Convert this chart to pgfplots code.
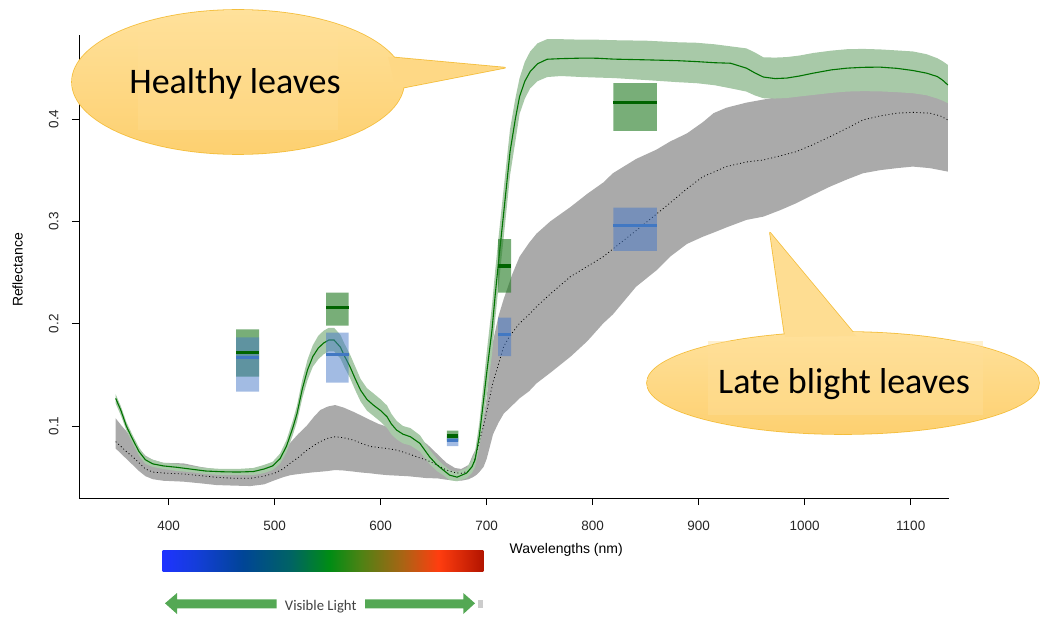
\documentclass[border=0pt]{standalone}
\usepackage{pgfplots}
\pgfplotsset{compat=1.18}
\usepackage{pgfplotstable}
\usepgfplotslibrary{fillbetween}
\usepackage{fontspec}
\setmainfont{Liberation Sans}
\newfontfamily\calibri{Carlito}

\definecolor{hband}{RGB}{168,201,168}
\definecolor{hline}{RGB}{0,115,0}
\definecolor{gband}{RGB}{170,170,170}
\definecolor{gbox}{RGB}{30,120,30}
\definecolor{bbox}{RGB}{70,120,200}
\definecolor{gmean}{RGB}{0,100,0}
\definecolor{bmean}{RGB}{65,120,195}
\definecolor{calltop}{RGB}{255,225,155}
\definecolor{callbot}{RGB}{253,208,112}
\definecolor{callfill}{RGB}{254,216,133}
\definecolor{callrect}{RGB}{255,223,152}
\definecolor{calldraw}{RGB}{244,190,60}
\definecolor{arrowg}{RGB}{84,168,84}

\pgfdeclarehorizontalshading{visible}{100bp}{
rgb(0bp)=(0.12,0.2,1);
rgb(25bp)=(0.12,0.2,1);
rgb(30bp)=(0.08,0.24,0.86);
rgb(37.5bp)=(0,0.27,0.59);
rgb(45bp)=(0,0.39,0.39);
rgb(51bp)=(0,0.55,0.08);
rgb(56bp)=(0.31,0.51,0.08);
rgb(62.5bp)=(0.67,0.39,0.08);
rgb(68bp)=(1,0.24,0.06);
rgb(75bp)=(0.7,0.08,0);
rgb(100bp)=(0.7,0.08,0)}

\pgfplotstableread{
wl m lo hi
350 0.127 0.122 0.131
355 0.115 0.110 0.119
360 0.100 0.096 0.104
366 0.087 0.083 0.091
372 0.075 0.071 0.079
378 0.067 0.063 0.070
385 0.063 0.060 0.067
395 0.061 0.058 0.064
408 0.0596 0.056 0.063
420 0.058 0.055 0.061
435 0.056 0.053 0.059
450 0.0553 0.052 0.058
465 0.055 0.052 0.058
480 0.0555 0.052 0.059
490 0.058 0.054 0.062
498 0.061 0.057 0.065
505 0.068 0.063 0.073
511 0.080 0.074 0.086
517 0.098 0.091 0.105
521 0.112 0.104 0.120
526 0.136 0.127 0.145
531 0.155 0.145 0.165
536 0.168 0.158 0.179
541 0.176 0.165 0.188
546 0.181 0.170 0.193
551 0.184 0.173 0.196
556 0.184 0.173 0.196
562 0.177 0.166 0.189
566 0.168 0.157 0.180
571 0.158 0.147 0.170
576 0.146 0.135 0.158
581 0.135 0.124 0.146
587 0.126 0.115 0.137
593 0.1205 0.110 0.132
600 0.115 0.104 0.126
606 0.109 0.098 0.120
610 0.102 0.092 0.112
615 0.096 0.087 0.105
621 0.092 0.083 0.100
628 0.0895 0.081 0.098
637 0.083 0.075 0.091
646 0.070 0.063 0.077
653 0.062 0.056 0.068
659 0.057 0.052 0.062
665 0.052 0.047 0.057
672 0.050 0.046 0.055
681 0.054 0.049 0.059
686 0.060 0.054 0.067
689 0.067 0.060 0.075
693 0.090 0.078 0.103
697 0.125 0.108 0.142
700 0.152 0.130 0.172
705 0.194 0.170 0.218
708 0.228 0.204 0.252
711 0.259 0.235 0.283
716 0.308 0.284 0.332
722 0.368 0.345 0.390
727 0.400 0.378 0.420
731 0.422 0.405 0.440
736 0.437 0.420 0.456
741 0.4464 0.430 0.466
748 0.454 0.437 0.474
757 0.4584 0.441 0.478
770 0.459 0.442 0.478
790 0.4595 0.441 0.4775
804 0.4594 0.4405 0.4775
820 0.4585 0.440 0.477
851 0.4578 0.438 0.4765
880 0.457 0.436 0.475
898 0.4561 0.435 0.4745
915 0.455 0.433 0.473
930 0.4545 0.430 0.471
945 0.4497 0.4268 0.469
953 0.445 0.423 0.465
961 0.441 0.4203 0.4603
972 0.4395 0.420 0.460
983 0.440 0.4205 0.4605
995 0.442 0.422 0.462
1008 0.4448 0.4235 0.4645
1025 0.448 0.4255 0.4668
1040 0.4497 0.4268 0.4682
1055 0.4505 0.4272 0.4685
1071 0.4507 0.4270 0.4680
1087 0.4495 0.4262 0.467
1102 0.4474 0.4252 0.466
1115 0.4448 0.4232 0.4633
1125 0.4415 0.420 0.4594
1130 0.438 0.418 0.4565
1135 0.4333 0.4154 0.4529
}\healthy

\pgfplotstableread{
wl m lo hi
350 0.0847 0.078 0.1075
355 0.080 0.073 0.101
360 0.075 0.068 0.095
366 0.070 0.062 0.086
372 0.064 0.056 0.078
378 0.058 0.051 0.071
385 0.055 0.048 0.067
395 0.054 0.0465 0.064
414 0.0531 0.0456 0.0635
430 0.0515 0.044 0.060
445 0.0499 0.0423 0.0577
460 0.049 0.0418 0.057
477 0.0489 0.0413 0.0565
490 0.051 0.043 0.060
500 0.054 0.047 0.065
508 0.058 0.050 0.073
515 0.064 0.052 0.084
522 0.069 0.053 0.092
530 0.076 0.054 0.100
537 0.081 0.0548 0.109
543 0.0847 0.0553 0.1156
550 0.088 0.056 0.119
557 0.0895 0.057 0.1205
565 0.0885 0.0565 0.118
574 0.0863 0.0555 0.114
582 0.083 0.0545 0.110
590 0.080 0.0538 0.1059
598 0.079 0.0528 0.102
606 0.078 0.052 0.0993
615 0.0765 0.0515 0.097
625 0.0733 0.051 0.094
635 0.0695 0.050 0.089
644 0.0665 0.049 0.082
653 0.062 0.0489 0.073
662 0.057 0.0475 0.064
670 0.0545 0.047 0.059
676 0.0538 0.0465 0.058
683 0.056 0.048 0.062
687 0.062 0.050 0.072
690 0.072 0.052 0.078
693 0.085 0.055 0.088
697 0.100 0.060 0.108
700 0.114 0.068 0.128
703 0.129 0.080 0.160
706 0.143 0.092 0.183
711 0.160 0.103 0.207
716 0.1775 0.112 0.224
720 0.185 0.116 0.236
724 0.191 0.120 0.248
731 0.2004 0.127 0.2655
740 0.209 0.134 0.279
747 0.2166 0.1417 0.288
760 0.229 0.152 0.300
779 0.246 0.1677 0.314
795 0.256 0.183 0.327
810 0.2655 0.2004 0.338
819 0.273 0.209 0.347
841 0.291 0.2362 0.361
860 0.307 0.252 0.370
873 0.318 0.2655 0.378
889 0.332 0.278 0.386
904 0.3437 0.285 0.397
914 0.348 0.289 0.4057
926 0.3535 0.294 0.411
945 0.358 0.3014 0.416
961 0.360 0.3046 0.419
977 0.364 0.311 0.422
992 0.3681 0.3177 0.424
1008 0.375 0.326 0.4268
1024 0.3828 0.334 0.428
1040 0.391 0.341 0.429
1055 0.3991 0.347 0.430
1071 0.403 0.350 0.430
1087 0.4057 0.352 0.4295
1102 0.4065 0.3535 0.428
1118 0.4057 0.352 0.426
1128 0.403 0.350 0.4236
1135 0.3991 0.3486 0.417
}\blight

\begin{document}
\begin{tikzpicture}[x=1pt,y=1pt]
\path (0,0) rectangle (1040,616);
\begin{axis}[
  at={(79pt,118pt)}, anchor=south west,
  scale only axis, width=870pt, height=463pt,
  xmin=315.38, xmax=1136.1, ymin=0.02964, ymax=0.48209,
  axis x line=bottom, axis y line=left,
  axis line style={-, black, line width=0.9pt},
  xtick={400,500,...,1100}, ytick={0.1,0.2,0.3,0.4},
  tick align=outside, major tick length=7pt,
  tick style={black, line width=0.8pt},
  /pgf/number format/assume math mode=true,
  /pgf/number format/1000 sep={},
  tick label style={font=\fontsize{13.5}{16}\selectfont, text=black!85},
  xticklabel style={yshift=-12.5pt},
  yticklabel style={rotate=90, anchor=south, yshift=10pt,
     /pgf/number format/fixed, /pgf/number format/precision=1},
  xlabel={Wavelengths (nm)},
  xlabel style={at={(axis description cs:0.560,-0.1123)}, anchor=center,
     font=\fontsize{14}{16}\selectfont},
  ylabel={Reflectance},
  ylabel style={at={(axis description cs:-0.0707,0.4924)}, anchor=center,
     font=\fontsize{14}{16}\selectfont},
]
% late blight band
\addplot[name path=bhi, draw=none, forget plot] table[x=wl,y=hi]{\blight};
\addplot[name path=blo, draw=none, forget plot] table[x=wl,y=lo]{\blight};
\addplot[gband, draw=none] fill between[of=bhi and blo];
% healthy band
\addplot[name path=hhi, draw=none, forget plot] table[x=wl,y=hi]{\healthy};
\addplot[name path=hlo, draw=none, forget plot] table[x=wl,y=lo]{\healthy};
\addplot[hband, draw=none] fill between[of=hhi and hlo];
% mean lines
\addplot[black, line width=0.8pt, dash pattern=on 0.9pt off 2.6pt] table[x=wl,y=m]{\blight};
\addplot[hline, line width=1.1pt] table[x=wl,y=m]{\healthy};
% band boxes: healthy (green)
\addplot[draw=none, fill=gbox, fill opacity=0.6] coordinates {(463.5,0.1482) (485.2,0.1482) (485.2,0.1945) (463.5,0.1945) (463.5,0.1482)};
\addplot[draw=none, fill=gbox, fill opacity=0.6] coordinates {(548.4,0.198) (569.8,0.198) (569.8,0.2303) (548.4,0.2303) (548.4,0.198)};
\addplot[draw=none, fill=gbox, fill opacity=0.6] coordinates {(662.3,0.0848) (673.2,0.0848) (673.2,0.0954) (662.3,0.0954) (662.3,0.0848)};
\addplot[draw=none, fill=gbox, fill opacity=0.6] coordinates {(710.7,0.2303) (723,0.2303) (723,0.2825) (710.7,0.2825) (710.7,0.2303)};
\addplot[draw=none, fill=gbox, fill opacity=0.6] coordinates {(819.4,0.3884) (860.4,0.3884) (860.4,0.435) (819.4,0.435) (819.4,0.3884)};
% band boxes: late blight (blue)
\addplot[draw=none, fill=bbox, fill opacity=0.5] coordinates {(463.5,0.1335) (485.2,0.1335) (485.2,0.1867) (463.5,0.1867) (463.5,0.1335)};
\addplot[draw=none, fill=bbox, fill opacity=0.5] coordinates {(548.4,0.1423) (569.8,0.1423) (569.8,0.1912) (548.4,0.1912) (548.4,0.1423)};
\addplot[draw=none, fill=bbox, fill opacity=0.5] coordinates {(662.3,0.0804) (673.2,0.0804) (673.2,0.0902) (662.3,0.0902) (662.3,0.0804)};
\addplot[draw=none, fill=bbox, fill opacity=0.5] coordinates {(710.7,0.1684) (723,0.1684) (723,0.2059) (710.7,0.2059) (710.7,0.1684)};
\addplot[draw=none, fill=bbox, fill opacity=0.5] coordinates {(819.4,0.2711) (860.4,0.2711) (860.4,0.3134) (819.4,0.3134) (819.4,0.2711)};
% box means
\addplot[bmean, line width=3pt] coordinates {(463.5,0.167) (485.2,0.167)};
\addplot[bmean, line width=3pt] coordinates {(548.4,0.1697) (569.8,0.1697)};
\addplot[bmean, line width=3pt] coordinates {(662.3,0.0856) (673.2,0.0856)};
\addplot[bmean, line width=3pt] coordinates {(710.7,0.1896) (723,0.1896)};
\addplot[bmean, line width=3pt] coordinates {(819.4,0.2958) (860.4,0.2958)};
\addplot[gmean, line width=3.5pt] coordinates {(463.5,0.172) (485.2,0.172)};
\addplot[gmean, line width=3.5pt] coordinates {(548.4,0.216) (569.8,0.216)};
\addplot[gmean, line width=3.5pt] coordinates {(662.3,0.0902) (673.2,0.0902)};
\addplot[gmean, line width=3.5pt] coordinates {(710.7,0.2564) (723,0.2564)};
\addplot[gmean, line width=3.5pt] coordinates {(819.4,0.416) (860.4,0.416)};
\end{axis}

% Healthy leaves callout
\path[draw=calldraw, line width=1.6pt] (238,534) ellipse [x radius=166, y radius=72];
\path[draw=calldraw, line width=1.6pt, line join=round] (388,559) -- (505,548.3) -- (396,527) -- cycle;
\shade[top color=calltop, bottom color=callbot] (238,534) ellipse [x radius=166, y radius=72];
\fill[callfill] (388,559) -- (505,548.3) -- (396,527) -- cycle;
\fill[callrect, opacity=0.3] (138.3,486) rectangle (338.3,581);
\node[font=\calibri\fontsize{36}{40}\selectfont, anchor=base] at (235,522.7) {Healthy leaves};

% Late blight callout
\path[draw=calldraw, line width=1.6pt] (843,233) ellipse [x radius=196, y radius=51];
\path[draw=calldraw, line width=1.6pt, line join=round] (785,279) -- (770,383.3) -- (856,280) -- cycle;
\shade[top color=calltop, bottom color=callbot] (843,233) ellipse [x radius=196, y radius=51];
\fill[calltop!60!callfill] (785,279) -- (770,383.3) -- (856,280) -- cycle;
\fill[callrect, opacity=0.45] (708,201) rectangle (983,275);
\node[font=\calibri\fontsize{36}{40}\selectfont, anchor=base] at (844,222.7) {Late blight leaves};

% visible spectrum bar
\shade[shading=visible] (162.7,45) rectangle (483.3,65.3);
\fill[arrowg] (165,12.7) -- (177,23) -- (177,16.7) -- (276.7,16.7) -- (276.7,7.7) -- (177,7.7) -- (177,2) -- cycle;
\fill[arrowg] (475,12.7) -- (463.3,23) -- (463.3,16.7) -- (365,16.7) -- (365,7.7) -- (463.3,7.7) -- (463.3,2) -- cycle;
\fill[black!20] (478.3,7.7) rectangle (483.3,16);
\node[font=\calibri\fontsize{14.7}{16}\selectfont, text=black!75, anchor=base] at (320.7,5.3) {Visible Light};
\end{tikzpicture}
\end{document}
